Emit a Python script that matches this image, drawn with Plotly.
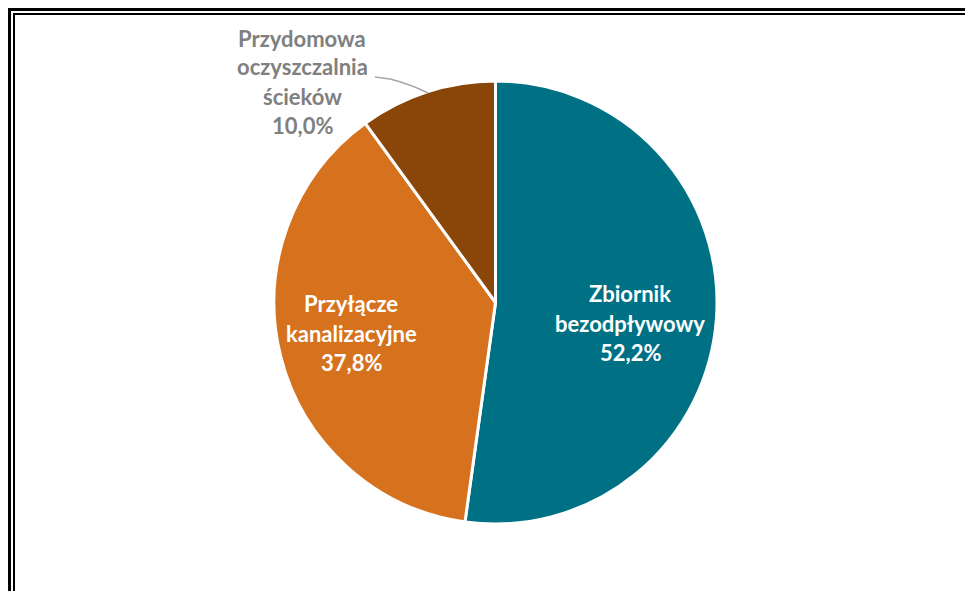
import plotly.graph_objects as go

W, H = 965, 591

labels = ["Zbiornik bezodpływowy", "Przyłącze kanalizacyjne", "Przydomowa oczyszczalnia ścieków"]
label_lines = [["Zbiornik", "bezodpływowy"], ["Przyłącze", "kanalizacyjne"], ["Przydomowa", "oczyszczalnia", "ścieków"]]
values = [52.2, 37.8, 10.0]
colors = ["#007185", "#D6711E", "#8A4508"]
text_colors = ["white", "white", "#808080"]
# label centre positions in pixels (x, y of first line)
label_pos = [(630, 294), (351, 304), (302, 38)]

cx, cy, r = 495.5, 302.5, 221.5

def px(x):
    return x / W

def py(y):
    return 1 - y / H

fig = go.Figure(go.Pie(
    labels=labels,
    values=values,
    sort=False,
    direction="clockwise",
    rotation=0,
    marker=dict(colors=colors, line=dict(color="white", width=3)),
    textinfo="none",
    hoverinfo="label+percent",
    showlegend=False,
    domain=dict(x=[px(cx - r), px(cx + r)], y=[py(cy + r), py(cy - r)]),
))

annotations = []
line_h = 29
for lines, v, (lx, ly), tc in zip(label_lines, values, label_pos, text_colors):
    all_lines = lines + [f"{v:.1f}%".replace(".", ",")]
    for i, t in enumerate(all_lines):
        annotations.append(dict(
            x=px(lx), y=py(ly + i * line_h), xref="paper", yref="paper",
            text=t, showarrow=False, xanchor="center", yanchor="middle",
            font=dict(family="Lato", size=22, color=tc, weight="bold"),
        ))

shapes = [
    # leader line
    dict(type="path", xref="paper", yref="paper",
         path=f"M {px(375)} {py(77)} L {px(390)} {py(79)} Q {px(410)} {py(84)} {px(428)} {py(93)}",
         line=dict(color="#A6A6A6", width=1.5)),
    # double frame (open at right and bottom)
    dict(type="path", xref="paper", yref="paper",
         path=f"M {px(9.5)} {py(600)} L {px(9.5)} {py(9.5)} L {px(975)} {py(9.5)}",
         line=dict(color="black", width=3)),
    dict(type="path", xref="paper", yref="paper",
         path=f"M {px(14)} {py(600)} L {px(14)} {py(14)} L {px(975)} {py(14)}",
         line=dict(color="black", width=2)),
]

fig.update_layout(
    width=W, height=H,
    margin=dict(l=0, r=0, t=0, b=0),
    paper_bgcolor="white",
    plot_bgcolor="white",
    annotations=annotations,
    shapes=shapes,
)

fig.write_html("out.html", config={"displayModeBar": False},
               post_script="document.body.style.margin='0px';")
